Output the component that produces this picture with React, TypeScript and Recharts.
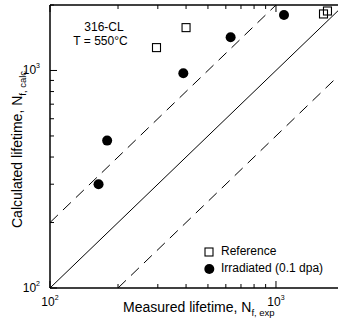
import React from 'react';
import {
  ScatterChart,
  Scatter,
  XAxis,
  YAxis,
  ReferenceLine,
  Legend,
  Customized,
} from 'recharts';

const referenceExp = [296, 400, 1623, 1690];
const referenceCalc = [1274, 1574, 1819, 1877];
const irradiatedExp = [164, 179, 389, 630, 1085];
const irradiatedCalc = [300, 476, 971, 1421, 1799];

const logTicks = [100, 200, 300, 400, 500, 600, 700, 800, 900, 1000, 2000];
const majorTicks = [100, 1000];
const domain: [number, number] = [100, 2000];

const referenceData = referenceExp.map((x, i) => ({ x, y: referenceCalc[i] }));
const irradiatedData = irradiatedExp.map((x, i) => ({ x, y: irradiatedCalc[i] }));

const FONT = '"Liberation Sans", Arial, Helvetica, sans-serif';

const expOf = (v: number) => (v === 100 ? '2' : '3');

function BottomTick({ x, y, payload }: any) {
  const v = payload.value;
  const major = majorTicks.includes(v);
  return (
    <g>
      <line x1={x} x2={x} y1={y} y2={y - (major ? 7 : 4)} stroke="#000" strokeWidth={1} />
      {major && (
        <text x={x} y={y + 18} textAnchor="middle" fontFamily={FONT} fontSize={12} fill="#000">
          10<tspan fontSize={7} dy={-6}>{expOf(v)}</tspan>
        </text>
      )}
    </g>
  );
}

function TopTick({ x, y, payload }: any) {
  const major = majorTicks.includes(payload.value);
  return <line x1={x} x2={x} y1={y} y2={y + (major ? 7 : 4)} stroke="#000" strokeWidth={1} />;
}

function LeftTick({ x, y, payload }: any) {
  const v = payload.value;
  const major = majorTicks.includes(v);
  return (
    <g>
      <line x1={x} x2={x + (major ? 7 : 4)} y1={y} y2={y} stroke="#000" strokeWidth={1} />
      {major && (
        <text x={x - 10} y={y + 4} textAnchor="end" fontFamily={FONT} fontSize={12} fill="#000">
          10<tspan fontSize={7} dy={-6}>{expOf(v)}</tspan>
        </text>
      )}
    </g>
  );
}

const OpenSquare = ({ cx, cy }: any) => (
  <rect x={cx - 4} y={cy - 4} width={8} height={8} fill="none" stroke="#000" strokeWidth={1.1} />
);

const FilledDot = ({ cx, cy }: any) => <circle cx={cx} cy={cy} r={5} fill="#000" />;

function LegendBox() {
  return (
    <svg width={130} height={40} style={{ display: 'block' }}>
      <rect x={5} y={8} width={8} height={8} fill="none" stroke="#000" strokeWidth={1.1} />
      <text x={21} y={15} fontFamily={FONT} fontSize={12} fill="#000">Reference</text>
      <circle cx={9.3} cy={29} r={5} fill="#000" />
      <text x={21} y={32} fontFamily={FONT} fontSize={12} fill="#000">Irradiated (0.1 dpa)</text>
    </svg>
  );
}

function Texts() {
  return (
    <g fontFamily={FONT} fill="#000">
      <text x={104} y={31} textAnchor="middle" fontSize={12}>316-CL</text>
      <text x={100.5} y={45} textAnchor="middle" fontSize={12}>T = 550°C</text>
      <text x={123} y={312} fontSize={14}>
        Measured lifetime, N<tspan fontSize={9.5} dy={4}>f, exp</tspan>
      </text>
      <text transform="translate(22, 228) rotate(-90)" fontSize={14}>
        Calculated lifetime, N<tspan fontSize={9.5} dy={4}>f, calc</tspan>
      </text>
    </g>
  );
}

export default function App() {
  return (
    <div
      style={{
        position: 'absolute',
        left: 0,
        top: 0,
        width: 338,
        height: 325,
        overflow: 'hidden',
        background: '#fff',
      }}
    >
      <ScatterChart width={346} height={325} margin={{ top: 0, right: 2, bottom: 0, left: 0 }}>
        <XAxis
          dataKey="x"
          type="number"
          scale="log"
          domain={domain}
          ticks={logTicks}
          interval={0}
          allowDataOverflow
          height={37}
          tickSize={0}
          tickMargin={0}
          tick={<BottomTick />}
          axisLine={{ stroke: '#000', strokeWidth: 1.5 }}
        />
        <XAxis
          xAxisId="top"
          orientation="top"
          dataKey="x"
          type="number"
          scale="log"
          domain={domain}
          ticks={logTicks}
          interval={0}
          allowDataOverflow
          height={5}
          tickSize={0}
          tickMargin={0}
          tick={<TopTick />}
          axisLine={{ stroke: '#000', strokeWidth: 1.5 }}
        />
        <YAxis
          dataKey="y"
          type="number"
          scale="log"
          domain={domain}
          ticks={logTicks}
          interval={0}
          allowDataOverflow
          width={50}
          tickSize={0}
          tickMargin={0}
          tick={<LeftTick />}
          axisLine={{ stroke: '#000', strokeWidth: 1.5 }}
        />
        <ReferenceLine
          segment={[{ x: 100, y: 100 }, { x: 2000, y: 2000 }]}
          stroke="#000"
          strokeWidth={1}
        />
        <ReferenceLine
          segment={[{ x: 100, y: 200 }, { x: 1000, y: 2000 }]}
          stroke="#000"
          strokeWidth={1}
          strokeDasharray="11 7"
        />
        <ReferenceLine
          segment={[{ x: 200, y: 100 }, { x: 2000, y: 1000 }]}
          stroke="#000"
          strokeWidth={1}
          strokeDasharray="11 7"
        />
        <Scatter
          name="Reference"
          data={referenceData}
          shape={<OpenSquare />}
          isAnimationActive={false}
        />
        <Scatter
          name="Irradiated (0.1 dpa)"
          data={irradiatedData}
          shape={<FilledDot />}
          isAnimationActive={false}
        />
        <Legend
          layout="horizontal"
          verticalAlign="middle"
          align="center"
          wrapperStyle={{ left: 200, top: 240, width: 130, height: 40 }}
          content={() => <LegendBox />}
        />
        <Customized component={Texts} />
      </ScatterChart>
    </div>
  );
}
